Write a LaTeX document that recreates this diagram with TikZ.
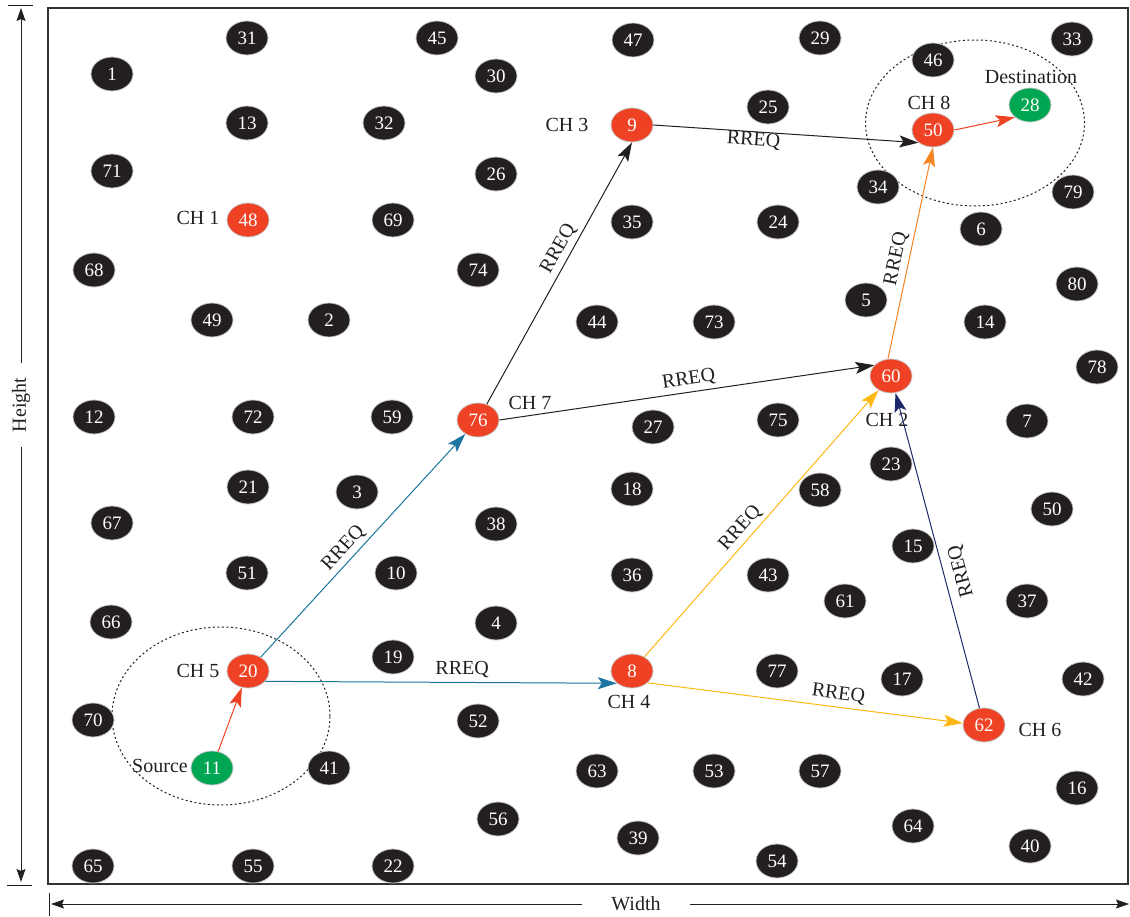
\documentclass[tikz,border=0pt]{standalone}
\usepackage{fontspec}
\setmainfont{Liberation Serif}
\usetikzlibrary{shapes.geometric,arrows.meta}
\definecolor{nred}{RGB}{239,65,35}
\definecolor{ngreen}{RGB}{0,166,81}
\definecolor{nblack}{RGB}{35,31,32}
\definecolor{tblack}{RGB}{35,31,32}
\definecolor{cblue}{RGB}{28,117,160}
\definecolor{cyel}{RGB}{253,184,19}
\definecolor{corange}{RGB}{245,130,32}
\definecolor{cnavy}{RGB}{30,40,110}
\definecolor{cred}{RGB}{239,65,35}
\begin{document}
\begin{tikzpicture}[x=1pt,y=-1pt,
  nodebase/.style={ellipse, minimum width=42pt, minimum height=34pt, inner sep=0pt,
    draw=black!22, line width=0.8pt, text=white, font=\fontsize{19}{19}\selectfont},
  bn/.style={nodebase, fill=nblack},
  rn/.style={nodebase, fill=nred},
  gn/.style={nodebase, fill=ngreen},
  lab/.style={font=\fontsize{20}{20}\selectfont, text=tblack, inner sep=0pt},
  link/.style={line width=1pt, -{Stealth[length=19pt,width=12pt,inset=4pt]}},
  rr/.style={font=\fontsize{20}{20}\selectfont, text=tblack, sloped, inner sep=4pt},
  axarrow/.style={line width=1pt, draw=tblack, -{Stealth[length=13pt,width=9pt,inset=2pt]}},
  zone/.style={ellipse, draw=tblack, line width=1pt, dash pattern=on 2pt off 2.5pt, inner sep=0pt},
  axline/.style={line width=1pt, draw=tblack}
]
\useasboundingbox (0,0) rectangle (1130,917);

% frame
\draw[line width=1.2pt, draw=black!80] (48,8) rectangle (1128,884);

% zones
\node[zone, minimum width=218pt, minimum height=178pt] (zsrc) at (221,716) {};
\node[zone, minimum width=219pt, minimum height=166pt] (zdst) at (975,123) {};

% black nodes
\foreach \n/\x/\y in {31/247/38, 45/437/38, 47/633/40, 29/820/38, 33/1072/39, 1/112/74,
  30/496/76, 46/933/60, 25/768/107, 13/247/123, 32/384/123, 71/112/171, 26/496/174,
  34/878/187, 79/1073/192, 69/393/220, 35/632/222, 24/778/222, 6/981/229, 68/94/270,
  74/478/270, 80/1077/284, 5/866/300, 49/212/320, 2/329/320, 44/597/322, 73/714/322,
  14/985/322, 78/1097/367, 12/94/417, 72/253/417, 59/392/417, 27/653/427, 75/778/420,
  7/1027/421, 23/891/464, 21/248/487, 3/357/492, 18/632/489, 58/820/490, 67/112/523,
  38/496/524, 15/913/546, 51/247/573, 10/396/573, 36/632/575, 43/768/575, 61/845/601,
  37/1027/601, 66/111/622, 4/496/623, 19/393/657, 77/777/671, 17/902/679, 42/1083/679,
  70/93/720, 52/478/721, 41/329/768, 63/597/771, 53/714/771, 57/820/771, 16/1077/788,
  56/498/819, 39/638/838, 64/913/826, 40/1030/846, 65/93/866, 55/253/866, 22/393/866,
  54/777/861}
  \node[bn] (n\n) at (\x,\y) {\n};
\node[bn] (n50b) at (1052,509) {50};

% cluster heads
\node[rn] (n48) at (248,220) {48};
\node[rn] (n9) at (632,125) {9};
\node[rn] (n50) at (933,130) {50};
\node[rn] (n60) at (891,376) {60};
\node[rn] (n76) at (478,420) {76};
\node[rn] (n20) at (248,671) {20};
\node[rn] (n8) at (632,671) {8};
\node[rn] (n62) at (984,725) {62};
\node[gn] (n28) at (1030,105) {28};
\node[gn] (n11) at (212,768) {11};

% labels
\node[lab] (l48) at (198,218) {CH 1};
\node[lab] (l9) at (567,125) {CH 3};
\node[lab] (l50) at (929,103) {CH 8};
\node[lab] (l28) at (1031,77) {Destination};
\node[lab] (l76) at (530,403) {CH 7};
\node[lab] (l60) at (887,420) {CH 2};
\node[lab] (l20) at (198,671) {CH 5};
\node[lab] (l8) at (629,702) {CH 4};
\node[lab] (l62) at (1040,730) {CH 6};
\node[lab] (l11) at (160,766) {Source};

% links
\draw[link, cred] (n11) -- (n20);
\draw[link, cblue] (n20) -- (n76) node[rr, pos=0.45, above] {RREQ};
\draw[link, cblue] (n20.-31) -- (n8.219) node[rr, pos=0.56, above] {RREQ};
\draw[link, tblack] (n76) -- (n9.south) node[rr, pos=0.57, above] {RREQ};
\draw[link, tblack] (n76.east) -- (n60.147) node[rr, pos=0.51, above] {RREQ};
\draw[link, tblack] (n9.east) -- (n50.221) node[rr, pos=0.38, below, inner sep=0pt] {RREQ};
\draw[link, cyel] (n8) -- (n60) node[rr, pos=0.45, above] {RREQ};
\draw[link, cyel] (n8.-37) -- (n62.175) node[rr, pos=0.6, above] {RREQ};
\draw[link, cnavy] (n62) -- (n60) node[rr, pos=0.42, below, allow upside down, inner sep=9pt] {RREQ};
\draw[link, corange] (n60.100) -- (n50.south) node[rr, pos=0.46, above] {RREQ};
\draw[link, cred] (n50.east) -- (n28.219);

% height axis
\coordinate (htop) at (21,8);
\coordinate (hbot) at (21,882);
\coordinate (httl) at (8,6);
\coordinate (httr) at (33,6);
\coordinate (htbl) at (7,885);
\coordinate (htbr) at (32,885);
\node[lab, rotate=90, inner xsep=15pt, inner ysep=2pt] (hlab) at (21,405) {Height};
\draw[axarrow] (hlab) -- (htop);
\draw[axarrow] (hlab) -- (hbot);
\draw[axline] (httl) -- (httr);
\draw[axline] (htbl) -- (htbr);

% width axis
\coordinate (wl) at (51,904);
\coordinate (wr) at (1129,904);
\coordinate (wtt) at (49,893);
\coordinate (wtb) at (49,916);
\node[lab, inner xsep=29pt, inner ysep=2pt] (wlab) at (636,904) {Width};
\draw[axarrow] (wlab) -- (wl);
\draw[axarrow] (wlab) -- (wr);
\draw[axline] (wtt) -- (wtb);
\end{tikzpicture}
\end{document}
